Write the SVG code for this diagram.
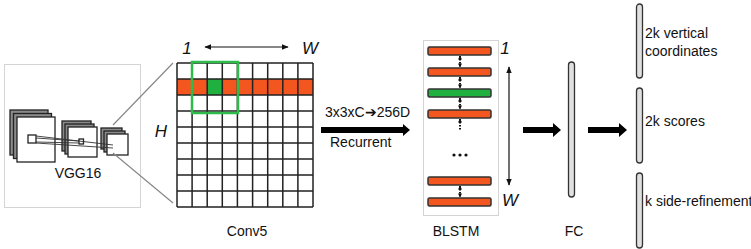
<svg xmlns="http://www.w3.org/2000/svg" width="751" height="249" viewBox="0 0 751 249">
<defs>
<style>
.t{font-family:"Liberation Sans",Arial,sans-serif;font-size:14px;fill:#111}
.it{font-family:"Liberation Sans",Arial,sans-serif;font-size:17px;font-style:italic;fill:#111}
.frame{fill:#fff;stroke:#d4d4d4;stroke-width:1}
.lay{fill:#fff;stroke:#222;stroke-width:1.3}
.layb{fill:#8a8a8a;stroke:#222;stroke-width:1.3}
.grid{stroke:#222;stroke-width:1.5;fill:none}
.bar{stroke:#333;stroke-width:1.5}
.or{fill:#f4561f}
.gr{fill:#1fb03f}
.fc{fill:#e0e0e0;stroke:#333;stroke-width:1.3}
.thin{stroke:#111;stroke-width:1.2;fill:none}
.dot{stroke:#111;stroke-width:2;stroke-dasharray:1.5 1.5;fill:none}
</style>
<marker id="ah" viewBox="0 0 10 10" refX="9" refY="5" markerWidth="7" markerHeight="7" orient="auto-start-reverse" markerUnits="userSpaceOnUse">
<path d="M0,1 L10,5 L0,9 z" fill="#111"/>
</marker>
<marker id="sh" viewBox="0 0 10 10" refX="9" refY="5" markerWidth="4" markerHeight="4" orient="auto-start-reverse" markerUnits="userSpaceOnUse">
<path d="M0,0 L10,5 L0,10 z" fill="#111"/>
</marker>
</defs>
<rect width="751" height="249" fill="#fff"/>

<g id="vgg16">
<rect class="frame" x="4.5" y="64.5" width="136" height="143"/>
<rect class="layb" x="10" y="110" width="38" height="45"/>
<rect class="layb" x="13.5" y="113.5" width="38" height="45"/>
<rect class="lay" x="17" y="117" width="38" height="45"/>
<rect class="lay" x="28" y="135" width="8" height="8"/>
<rect class="layb" x="62" y="121" width="29" height="30"/>
<rect class="layb" x="65" y="124" width="29" height="30"/>
<rect class="lay" x="68" y="127" width="29" height="30"/>
<rect class="lay" x="79" y="139" width="4.5" height="5"/>
<rect class="layb" x="101" y="128" width="21" height="21"/>
<rect class="layb" x="104" y="131" width="21" height="21"/>
<rect class="lay" x="107" y="134" width="21" height="21"/>
<path d="M36,136 L113,145 M36,143 L113,148 M36,138 L79,141 M36,142 L79,143" stroke="#333" stroke-width="0.9" fill="none"/>
<text class="t" x="78" y="178" text-anchor="middle">VGG16</text>
</g>

<g id="conv5">
<path d="M113,125 L173,63 M113,153 L173,203" stroke="#888" stroke-width="1.2" fill="none"/>
<rect x="177" y="79" width="136" height="16" class="or"/>
<rect x="207.2" y="79" width="15.1" height="16" class="gr"/>
<path class="grid" d="M177,63 H313 M177,79 H313 M177,95 H313 M177,111 H313 M177,127 H313 M177,143 H313 M177,159 H313 M177,175 H313 M177,191 H313 M177,207 H313 M177,63 V207 M192.1,63 V207 M207.2,63 V207 M222.3,63 V207 M237.4,63 V207 M252.6,63 V207 M267.7,63 V207 M282.8,63 V207 M297.9,63 V207 M313,63 V207"/>
<rect x="192" y="62" width="46" height="51" fill="none" stroke="#2dbb4a" stroke-width="2.5"/>
<text class="it" x="187" y="54" text-anchor="middle">1</text>
<text class="it" x="310" y="54" text-anchor="middle">W</text>
<text class="it" x="161" y="137" text-anchor="middle">H</text>
<text class="t" x="247" y="236" text-anchor="middle">Conv5</text>
</g>

<g id="blstm">
<rect class="frame" x="423.5" y="40.5" width="75" height="175"/>
<rect class="bar or" x="428" y="47" width="63" height="8" rx="1.5"/>
<rect class="bar or" x="428" y="68" width="63" height="8" rx="1.5"/>
<rect class="bar gr" x="428" y="89" width="63" height="8" rx="1.5"/>
<rect class="bar or" x="428" y="110" width="63" height="8" rx="1.5"/>
<rect class="bar or" x="428" y="177" width="63" height="8" rx="1.5"/>
<rect class="bar or" x="428" y="198" width="63" height="8" rx="1.5"/>
<circle cx="454" cy="155" r="1.6" fill="#111"/>
<circle cx="460" cy="155" r="1.6" fill="#111"/>
<circle cx="466" cy="155" r="1.6" fill="#111"/>
<text class="it" x="505" y="54" text-anchor="middle">1</text>
<text class="it" x="510" y="206" text-anchor="middle">W</text>
<text class="t" x="456" y="236" text-anchor="middle">BLSTM</text>
</g>

<g id="fc">
<rect class="fc" x="568.5" y="62" width="6" height="135" rx="3"/>
<text class="t" x="574" y="236" text-anchor="middle">FC</text>
</g>

<g id="out-vertical">
<rect class="fc" x="636.5" y="4" width="6" height="74" rx="3"/>
<text class="t" x="645" y="38">2k vertical</text>
<text class="t" x="645" y="56">coordinates</text>
</g>
<g id="out-scores">
<rect class="fc" x="636.5" y="88" width="6" height="75" rx="3"/>
<text class="t" x="645" y="126">2k scores</text>
</g>
<g id="out-side">
<rect class="fc" x="636.5" y="173" width="6" height="75" rx="3"/>
<text class="t" x="645" y="206">k side-refinement</text>
</g>

<g id="connectors">
<line class="thin" x1="205" y1="47" x2="288" y2="47" marker-start="url(#ah)" marker-end="url(#ah)"/>
<line class="thin" x1="509" y1="67" x2="509" y2="185" marker-start="url(#ah)" marker-end="url(#ah)"/>
<line class="dot" x1="460" y1="56" x2="460" y2="67" marker-start="url(#sh)" marker-end="url(#sh)"/>
<line class="dot" x1="460" y1="77" x2="460" y2="88" marker-start="url(#sh)" marker-end="url(#sh)"/>
<line class="dot" x1="460" y1="98" x2="460" y2="109" marker-start="url(#sh)" marker-end="url(#sh)"/>
<line class="dot" x1="460" y1="119" x2="460" y2="131" marker-start="url(#sh)"/>
<line class="dot" x1="460" y1="186" x2="460" y2="197" marker-start="url(#sh)" marker-end="url(#sh)"/>
<path d="M321,127 H403 V124 L410,130 L403,136 V133 H321 z" fill="#000"/>
<text class="t" x="325" y="117">3x3xC➔256D</text>
<text class="t" x="330" y="147">Recurrent</text>
<path d="M523,127 H553 V123 L561,130 L553,137 V133 H523 z" fill="#000"/>
<path d="M588,127 H619 V123 L627,130 L619,137 V133 H588 z" fill="#000"/>
</g>
</svg>
